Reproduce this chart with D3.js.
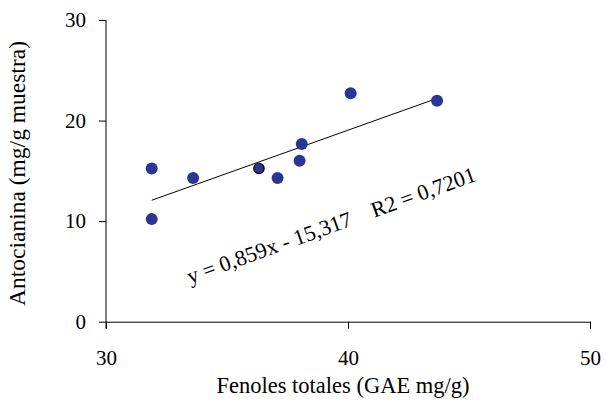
<!DOCTYPE html>
<html>
<head>
<meta charset="utf-8">
<script src="https://cdn.jsdelivr.net/npm/d3@7"></script>
<style>
  html, body { margin: 0; padding: 0; background: #fff; }
  svg { display: block; }
  text { font-family: "Liberation Serif", "Times New Roman", serif; fill: #000; }
</style>
</head>
<body>
<svg id="chart" width="606" height="400"></svg>
<script>
// Total phenols (GAE mg/g) vs anthocyanin (mg/g sample)
const fenoles = [31.89, 31.89, 33.6, 36.32, 37.09, 38.0, 38.09, 40.11, 43.68];
const antocianina = [15.24, 10.2, 14.28, 15.24, 14.28, 16.0, 17.67, 22.71, 21.98];
// marks drawn with a dark outline
const outlined = [false, false, false, true, false, false, false, false, false];

const xTicks = [30, 40, 50];
const yTicks = [0, 10, 20, 30];

// linear fit shown on the chart
const slope = 0.859;
const intercept = -15.317;
const fitLabel = "y = 0,859x - 15,317    R2 = 0,7201";

const xLabel = "Fenoles totales (GAE mg/g)";
const yLabel = "Antocianina (mg/g muestra)";

const serif = '"Liberation Serif", "Times New Roman", serif';
const svg = d3.select("#chart");

const x = d3.scaleLinear().domain([30, 50]).range([106, 590]);
const y = d3.scaleLinear().domain([0, 30]).range([321.7, 20]);

// axes
const xAxis = svg.append("g")
  .attr("transform", `translate(0,${y(0)})`)
  .call(d3.axisBottom(x).tickValues(xTicks).tickSize(7).tickSizeOuter(0).tickPadding(21));
const yAxis = svg.append("g")
  .attr("transform", `translate(${x(30)},0)`)
  .call(d3.axisLeft(y).tickValues(yTicks).tickSize(7).tickSizeOuter(0).tickPadding(13));

[xAxis, yAxis].forEach(g => {
  g.select(".domain").attr("stroke", "#000").attr("stroke-width", 1);
  g.selectAll(".tick line").attr("stroke", "#000").attr("stroke-width", 1);
  g.selectAll(".tick text")
    .style("font-family", serif)
    .style("font-size", "21px")
    .attr("fill", "#000");
});
// y axis runs a little below the x axis
yAxis.select(".domain").attr("d", `M0,${y(30)}V${y(0) + 7}`);

// axis titles
svg.append("text")
  .attr("x", 343)
  .attr("y", 393)
  .attr("text-anchor", "middle")
  .style("font-family", serif)
  .style("font-size", "22.5px")
  .text(xLabel);

svg.append("text")
  .attr("transform", "translate(25,173.5) rotate(-90)")
  .attr("text-anchor", "middle")
  .style("font-family", serif)
  .style("font-size", "23.5px")
  .text(yLabel);

// trend line over the data range
const xMin = d3.min(fenoles), xMax = d3.max(fenoles);
svg.append("line")
  .attr("x1", x(xMin)).attr("y1", y(slope * xMin + intercept))
  .attr("x2", x(xMax)).attr("y2", y(slope * xMax + intercept))
  .attr("stroke", "#000")
  .attr("stroke-width", 1);

// points
svg.append("g").selectAll("circle")
  .data(fenoles.map((f, i) => ({ f, a: antocianina[i], o: outlined[i] })))
  .join("circle")
  .attr("cx", d => x(d.f))
  .attr("cy", d => y(d.a))
  .attr("r", d => d.o ? 5.2 : 6)
  .attr("fill", "#2B3593")
  .attr("stroke", d => d.o ? "#000" : "none")
  .attr("stroke-width", 1.2);

// equation label
svg.append("text")
  .attr("transform", "translate(190,284) rotate(-19.8)")
  .style("font-family", serif)
  .style("font-size", "22px")
  .style("white-space", "pre")
  .attr("xml:space", "preserve")
  .text(fitLabel);
</script>
</body>
</html>
